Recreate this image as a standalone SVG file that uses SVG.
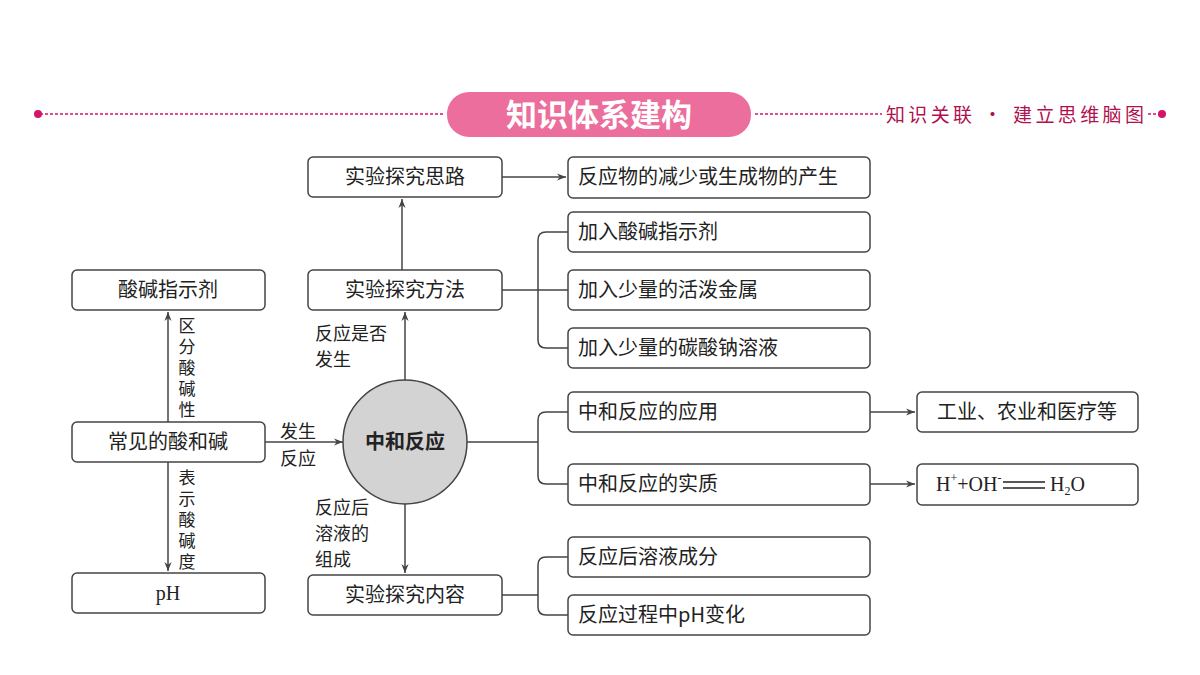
<svg xmlns="http://www.w3.org/2000/svg" width="1200" height="675" viewBox="0 0 1200 675">
<defs>
<marker id="ar" viewBox="0 0 10 10" refX="10" refY="5" markerWidth="9" markerHeight="9" orient="auto" markerUnits="userSpaceOnUse"><path d="M0,1 L10,5 L0,9 L3,5 Z" fill="#444"/></marker>
</defs>
<style>
.b{fill:#fff;stroke:#444;stroke-width:1.5}
.t{font-family:"Noto Sans CJK SC",sans-serif;font-size:20px;fill:#222}
.s{font-family:"Noto Sans CJK SC",sans-serif;font-size:18px;fill:#222}
.v{font-family:"Noto Sans CJK SC",sans-serif;font-size:17px;fill:#222;writing-mode:vertical-rl;letter-spacing:4px}
.c{fill:none;stroke:#444;stroke-width:1.5}
.m{font-family:"Liberation Serif",serif;font-size:20px;fill:#222}
</style>
<rect width="1200" height="675" fill="#fff"/>
<g id="header">
<line x1="40" y1="114" x2="445" y2="114" stroke="#d4136a" stroke-width="1.5" stroke-dasharray="3,2"/>
<line x1="755" y1="114" x2="882" y2="114" stroke="#d4136a" stroke-width="1.5" stroke-dasharray="3,2"/>
<line x1="1148" y1="114" x2="1160" y2="114" stroke="#d4136a" stroke-width="1.5" stroke-dasharray="3,2"/>
<circle cx="38" cy="114" r="4" fill="#d4136a"/>
<circle cx="1162" cy="114" r="4" fill="#d4136a"/>
<rect x="447" y="92" width="304" height="45" rx="22" fill="#ec6e9c"/>
<text x="599" y="126" text-anchor="middle" font-family="Noto Sans CJK SC,sans-serif" font-size="31" font-weight="bold" fill="#fff">知识体系建构</text>
<text x="1015" y="122" text-anchor="middle" font-family="Noto Sans CJK SC,sans-serif" font-size="19" fill="#b0104e" textLength="258">知识关联 · 建立思维脑图</text>
</g>
<g id="connectors">
<path class="c" d="M402,270 V199" marker-end="url(#ar)"/>
<path class="c" d="M502,177 H566" marker-end="url(#ar)"/>
<path class="c" d="M502,290 H538 M568,232 H546 Q538,232 538,240 V340 Q538,348 546,348 H568 M538,290 H568"/>
<path class="c" d="M405,380 V312" marker-end="url(#ar)"/>
<path class="c" d="M405,504 V573" marker-end="url(#ar)"/>
<path class="c" d="M467,442 H538 M568,412 H546 Q538,412 538,420 V476 Q538,484 546,484 H568"/>
<path class="c" d="M870,412 H915" marker-end="url(#ar)"/>
<path class="c" d="M870,484 H915" marker-end="url(#ar)"/>
<path class="c" d="M265,442 H343" marker-end="url(#ar)"/>
<path class="c" d="M168,422 V312" marker-end="url(#ar)"/>
<path class="c" d="M168,462 V571" marker-end="url(#ar)"/>
<path class="c" d="M502,595 H538 M568,557 H546 Q538,557 538,565 V607 Q538,615 546,615 H568"/>
<text class="s" x="315" y="340">反应是否</text>
<text class="s" x="315" y="366">发生</text>
<text class="s" x="280" y="438">发生</text>
<text class="s" x="280" y="465">反应</text>
<text class="s" x="315" y="514">反应后</text>
<text class="s" x="315" y="540">溶液的</text>
<text class="s" x="315" y="566">组成</text>
<text class="v" x="187" y="317">区分酸碱性</text>
<text class="v" x="187" y="469">表示酸碱度</text>
</g>
<g id="n1"><rect class="b" x="308" y="157" width="194" height="40" rx="5"/><text class="t" x="405" y="184" text-anchor="middle">实验探究思路</text></g>
<g id="n2"><rect class="b" x="568" y="157" width="302" height="41" rx="5"/><text class="t" x="578" y="184">反应物的减少或生成物的产生</text></g>
<g id="n3"><rect class="b" x="568" y="212" width="302" height="40" rx="5"/><text class="t" x="578" y="239">加入酸碱指示剂</text></g>
<g id="n4"><rect class="b" x="568" y="270" width="302" height="40" rx="5"/><text class="t" x="578" y="297">加入少量的活泼金属</text></g>
<g id="n5"><rect class="b" x="568" y="328" width="302" height="40" rx="5"/><text class="t" x="578" y="355">加入少量的碳酸钠溶液</text></g>
<g id="n6"><rect class="b" x="308" y="270" width="194" height="40" rx="5"/><text class="t" x="405" y="297" text-anchor="middle">实验探究方法</text></g>
<g id="n7"><rect class="b" x="72" y="270" width="193" height="40" rx="5"/><text class="t" x="168" y="297" text-anchor="middle">酸碱指示剂</text></g>
<g id="n8"><rect class="b" x="72" y="422" width="193" height="40" rx="5"/><text class="t" x="168" y="449" text-anchor="middle">常见的酸和碱</text></g>
<g id="n9"><rect class="b" x="72" y="573" width="193" height="40" rx="5"/><text class="m" x="168" y="600" text-anchor="middle">pH</text></g>
<g id="center"><circle cx="405" cy="442" r="62" fill="#d3d3d3" stroke="#444" stroke-width="1.5"/><text x="405" y="449" text-anchor="middle" font-family="Noto Sans CJK SC,sans-serif" font-size="20" font-weight="bold" fill="#222">中和反应</text></g>
<g id="n10"><rect class="b" x="568" y="392" width="302" height="40" rx="5"/><text class="t" x="578" y="419">中和反应的应用</text></g>
<g id="n11"><rect class="b" x="568" y="464" width="302" height="41" rx="5"/><text class="t" x="578" y="491">中和反应的实质</text></g>
<g id="n12"><rect class="b" x="917" y="392" width="221" height="40" rx="5"/><text class="t" x="1027" y="419" text-anchor="middle">工业、农业和医疗等</text></g>
<g id="n13"><rect class="b" x="917" y="464" width="221" height="41" rx="5"/><text class="m" x="936" y="491">H<tspan font-size="12" dy="-9">+</tspan><tspan dy="9">+OH</tspan><tspan font-size="12" dy="-9">-</tspan></text>
<line x1="1003" y1="482" x2="1045" y2="482" stroke="#222" stroke-width="1.5"/><line x1="1003" y1="488" x2="1045" y2="488" stroke="#222" stroke-width="1.5"/>
<text class="m" x="1050" y="491">H<tspan font-size="12" dy="4">2</tspan><tspan dy="-4">O</tspan></text></g>
<g id="n14"><rect class="b" x="308" y="575" width="194" height="40" rx="5"/><text class="t" x="405" y="602" text-anchor="middle">实验探究内容</text></g>
<g id="n15"><rect class="b" x="568" y="537" width="302" height="40" rx="5"/><text class="t" x="578" y="564">反应后溶液成分</text></g>
<g id="n16"><rect class="b" x="568" y="595" width="302" height="40" rx="5"/><text class="t" x="578" y="622">反应过程中pH变化</text></g>
</svg>
